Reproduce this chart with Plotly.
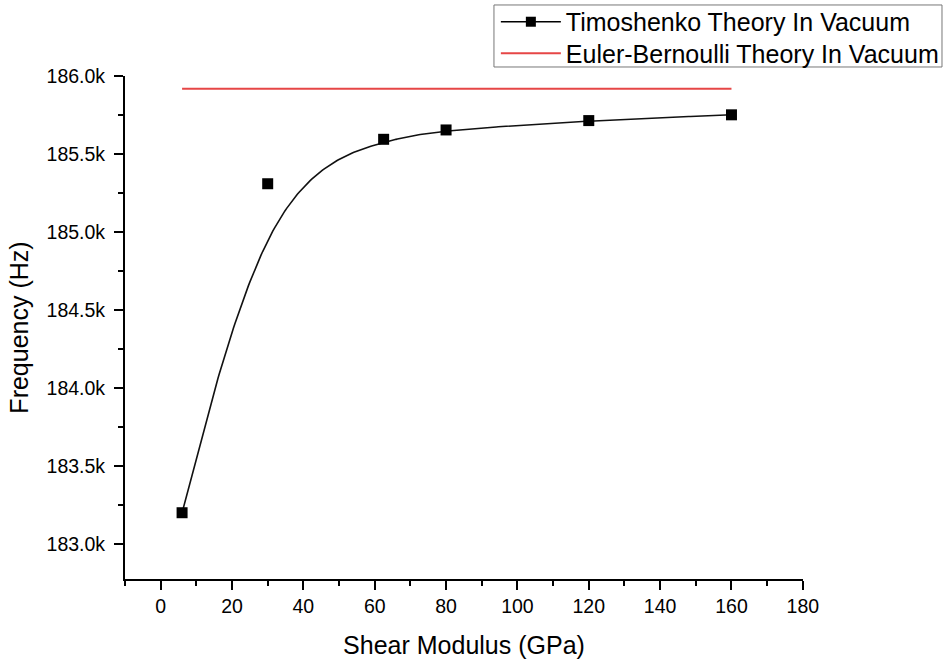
import numpy as np
import plotly.graph_objects as go

# Natural frequency vs. shear modulus
shear_modulus_gpa = [6, 30, 62.5, 80, 120, 160]
timoshenko_hz = [183200, 185310, 185595, 185655, 185715, 185752]
euler_bernoulli_hz = 185920  # independent of shear modulus

x_tickvals = [0, 20, 40, 60, 80, 100, 120, 140, 160, 180]
y_tickvals = [183000, 183500, 184000, 184500, 185000, 185500, 186000]

TIMO_NAME = "Timoshenko Theory In Vacuum"
EB_NAME = "Euler-Bernoulli Theory In Vacuum"


def bspline_curve(xs, ys, samples_per_seg=60):
    """Uniform cubic B-spline; end points are tripled so the curve starts and ends on them."""
    pts = np.column_stack([xs, ys]).astype(float)
    ctrl = np.vstack([pts[:1], pts[:1], pts, pts[-1:], pts[-1:]])
    u = np.linspace(0.0, 1.0, samples_per_seg)
    basis = np.column_stack([
        (1 - u) ** 3,
        3 * u ** 3 - 6 * u ** 2 + 4,
        -3 * u ** 3 + 3 * u ** 2 + 3 * u + 1,
        u ** 3,
    ]) / 6.0
    segs = [basis @ ctrl[i:i + 4] for i in range(len(ctrl) - 3)]
    out = np.vstack(segs)
    return out[:, 0], out[:, 1]


curve_x, curve_y = bspline_curve(shear_modulus_gpa, timoshenko_hz)

fig = go.Figure()

# Smoothed Timoshenko curve
fig.add_trace(go.Scatter(
    x=curve_x, y=curve_y, mode="lines",
    line=dict(color="#111111", width=1.6),
    showlegend=False, hoverinfo="skip",
))

# Timoshenko data points
fig.add_trace(go.Scatter(
    x=shear_modulus_gpa, y=timoshenko_hz, mode="markers",
    marker=dict(symbol="square", size=11, color="black"),
    showlegend=False,
))

# Legend entry for the Timoshenko series (line + marker)
fig.add_trace(go.Scatter(
    x=[None], y=[None], mode="lines+markers", name=TIMO_NAME,
    line=dict(color="black", width=1.6),
    marker=dict(symbol="square", size=10, color="black"),
    legend="legend",
))

# Euler-Bernoulli reference line across the same shear modulus span
fig.add_trace(go.Scatter(
    x=[min(shear_modulus_gpa), max(shear_modulus_gpa)],
    y=[euler_bernoulli_hz, euler_bernoulli_hz],
    mode="lines", name=EB_NAME,
    line=dict(color="rgb(230,70,70)", width=2),
    legend="legend2",
))

axis_common = dict(
    showline=True, linecolor="black", linewidth=2,
    ticks="outside", ticklen=9, tickwidth=2, tickcolor="black",
    showgrid=False, zeroline=False,
    tickfont=dict(size=19.5, color="black"),
)

fig.update_xaxes(
    **axis_common,
    range=[-10, 180.05],
    tickmode="array", tickvals=x_tickvals,
    minor=dict(ticks="outside", ticklen=5, tickwidth=2, tickcolor="black",
               tick0=10, dtick=20, showgrid=False),
    title=dict(text="Shear Modulus (GPa)", font=dict(size=25, color="black"), standoff=20),
)
fig.update_yaxes(
    **axis_common,
    range=[182775, 186001],
    tickmode="array", tickvals=y_tickvals, tickformat=".4s",
    ticklabelstandoff=5,
    minor=dict(ticks="outside", ticklen=5, tickwidth=2, tickcolor="black",
               tick0=182750, dtick=500, showgrid=False),
    title=dict(text="Frequency (Hz)", font=dict(size=25, color="black"), standoff=11),
)

legend_common = dict(
    xanchor="left", yanchor="middle",
    bgcolor="rgba(0,0,0,0)", borderwidth=0,
    font=dict(size=25, color="black"),
    itemwidth=60,
)

fig.update_layout(
    width=946, height=663,
    margin=dict(l=125, r=143, t=76, b=84, autoexpand=False),
    plot_bgcolor="white", paper_bgcolor="white",
    font=dict(family="Arial, Liberation Sans, sans-serif", color="black"),
    legend=dict(x=0.547, y=1.1074, **legend_common),
    legend2=dict(x=0.547, y=1.0447, **legend_common),
    shapes=[dict(
        type="rect", xref="paper", yref="paper",
        x0=0.5442, x1=1.2050, y0=1.0179, y1=1.1412,
        line=dict(color="#777777", width=1), fillcolor="rgba(0,0,0,0)",
        layer="below",
    )],
)

fig.write_html("out.html")
